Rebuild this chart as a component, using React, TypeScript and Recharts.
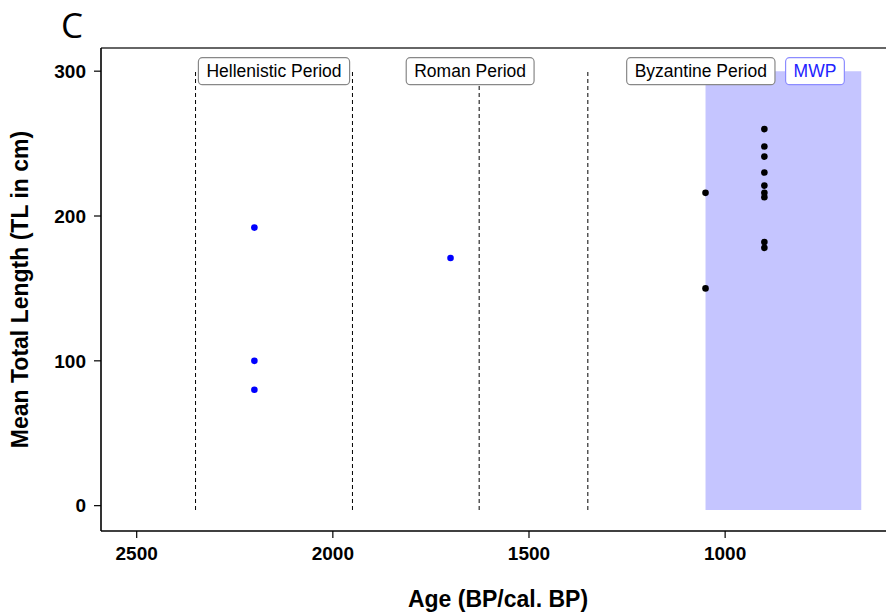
import React from 'react';
import {
  ComposedChart,
  Scatter,
  XAxis,
  YAxis,
  ReferenceLine,
  ReferenceArea,
  ReferenceDot,
  Label,
} from 'recharts';

// ---- data ----
const xTicks = [2500, 2000, 1500, 1000];
const yTicks = [0, 100, 200, 300];
const xDomain = [567, 2591];
const yDomain = [-17.5, 316];

const periodBoundaries = [2350, 1950, 1627, 1350];
const boundaryBottom = -3;
const boundaryTop = 300;

const periodLabels = ['Hellenistic Period', 'Roman Period', 'Byzantine Period', 'MWP'];
const periodLabelAges = [2150, 1650, 1062, 771];

const mwpStart = 1050;
const mwpEnd = 653;

const blueAges = [2200, 2200, 2200, 1700];
const blueLengths = [192, 100, 80, 171];

const blackAges = [1050, 1050, 900, 900, 900, 900, 900, 900, 900, 900, 900];
const blackLengths = [216, 150, 260, 248, 241, 230, 221, 216, 213, 182, 178];

const blueData = blueAges.map((a, i) => ({ x: a, y: blueLengths[i] }));
const blackData = blackAges.map((a, i) => ({ x: a, y: blackLengths[i] }));

const FONT = '"Liberation Sans", Arial, Helvetica, sans-serif';

function textWidth(t: string, size: number) {
  const c = document.createElement('canvas').getContext('2d');
  if (!c) return t.length * size * 0.5;
  c.font = `${size}px "Liberation Sans", Arial, sans-serif`;
  return c.measureText(t).width;
}

const PeriodBox = (props: any) => {
  const { cx, cy, text, color, border } = props;
  const fs = 17.5;
  const w = textWidth(text, fs) + 16;
  const h = 27;
  return (
    <g>
      <rect x={cx - w / 2} y={cy - h / 2} width={w} height={h} rx={4} ry={4} fill="#fff" stroke={border} strokeWidth={1.2} />
      <text x={cx} y={cy} dy="0.36em" textAnchor="middle" fontSize={fs} fill={color} fontFamily={FONT}>
        {text}
      </text>
    </g>
  );
};

const Dot = (color: string) => (p: any) => <circle cx={p.cx} cy={p.cy} r={3.3} fill={color} />;

export default function App() {
  return (
    <div style={{ position: 'absolute', left: 0, top: 0, width: 886, height: 614, overflow: 'hidden', background: '#fff' }}>
      <div
        style={{
          position: 'absolute',
          left: 61,
          top: 3,
          fontFamily: '"Open Sans", sans-serif',
          fontSize: 35,
          lineHeight: '44px',
          color: '#000',
        }}
      >
        C
      </div>
      <ComposedChart
        width={900}
        height={614}
        margin={{ top: 48, right: 5, bottom: 0, left: 0 }}
        style={{ fontFamily: FONT }}
      >
        <XAxis
          type="number"
          dataKey="x"
          domain={xDomain}
          reversed
          allowDataOverflow
          ticks={xTicks}
          height={83}
          tickSize={7}
          tickMargin={9}
          axisLine={{ stroke: '#000', strokeWidth: 1.6 }}
          tickLine={{ stroke: '#000', strokeWidth: 1.2 }}
          tick={{ fontSize: 19, fontWeight: 'bold', fill: '#000', fontFamily: FONT }}
        >
          <Label
            value="Age (BP/cal. BP)"
            position="insideBottom"
            offset={7}
            style={{ fontSize: 23, fontWeight: 'bold', fill: '#000', fontFamily: FONT }}
          />
        </XAxis>
        <YAxis
          type="number"
          dataKey="y"
          domain={yDomain}
          allowDataOverflow
          ticks={yTicks}
          width={101}
          tickSize={7}
          tickMargin={8}
          axisLine={{ stroke: '#000', strokeWidth: 1.6 }}
          tickLine={{ stroke: '#000', strokeWidth: 1.2 }}
          tick={{ fontSize: 19, fontWeight: 'bold', fill: '#000', fontFamily: FONT }}
        >
          <Label
            value="Mean Total Length (TL in cm)"
            angle={-90}
            position="insideLeft"
            offset={20}
            style={{ fontSize: 23, fontWeight: 'bold', fill: '#000', fontFamily: FONT, textAnchor: 'middle' }}
          />
        </YAxis>
        <ReferenceLine y={yDomain[1]} stroke="#333" strokeWidth={1.6} ifOverflow="visible" />
        <ReferenceArea
          x1={mwpStart}
          x2={mwpEnd}
          y1={boundaryBottom}
          y2={boundaryTop}
          fill="#c5c5ff"
          fillOpacity={1}
          stroke="none"
        />
        {periodBoundaries.map((b) => (
          <ReferenceLine
            key={b}
            segment={[
              { x: b, y: boundaryBottom },
              { x: b, y: boundaryTop },
            ]}
            stroke="#000"
            strokeWidth={1}
            strokeDasharray="4 3"
          />
        ))}
        <Scatter data={blueData} fill="#0000ff" isAnimationActive={false} shape={Dot('#0000ff')} />
        <Scatter data={blackData} fill="#000" isAnimationActive={false} shape={Dot('#000')} />
        {periodLabels.map((t, i) => (
          <ReferenceDot
            key={t}
            x={periodLabelAges[i]}
            y={boundaryTop}
            shape={(p: any) => (
              <PeriodBox
                cx={p.cx}
                cy={p.cy}
                text={t}
                color={t === 'MWP' ? '#2222ff' : '#000'}
                border={t === 'MWP' ? '#8c8cff' : '#888'}
              />
            )}
          />
        ))}
      </ComposedChart>
    </div>
  );
}
